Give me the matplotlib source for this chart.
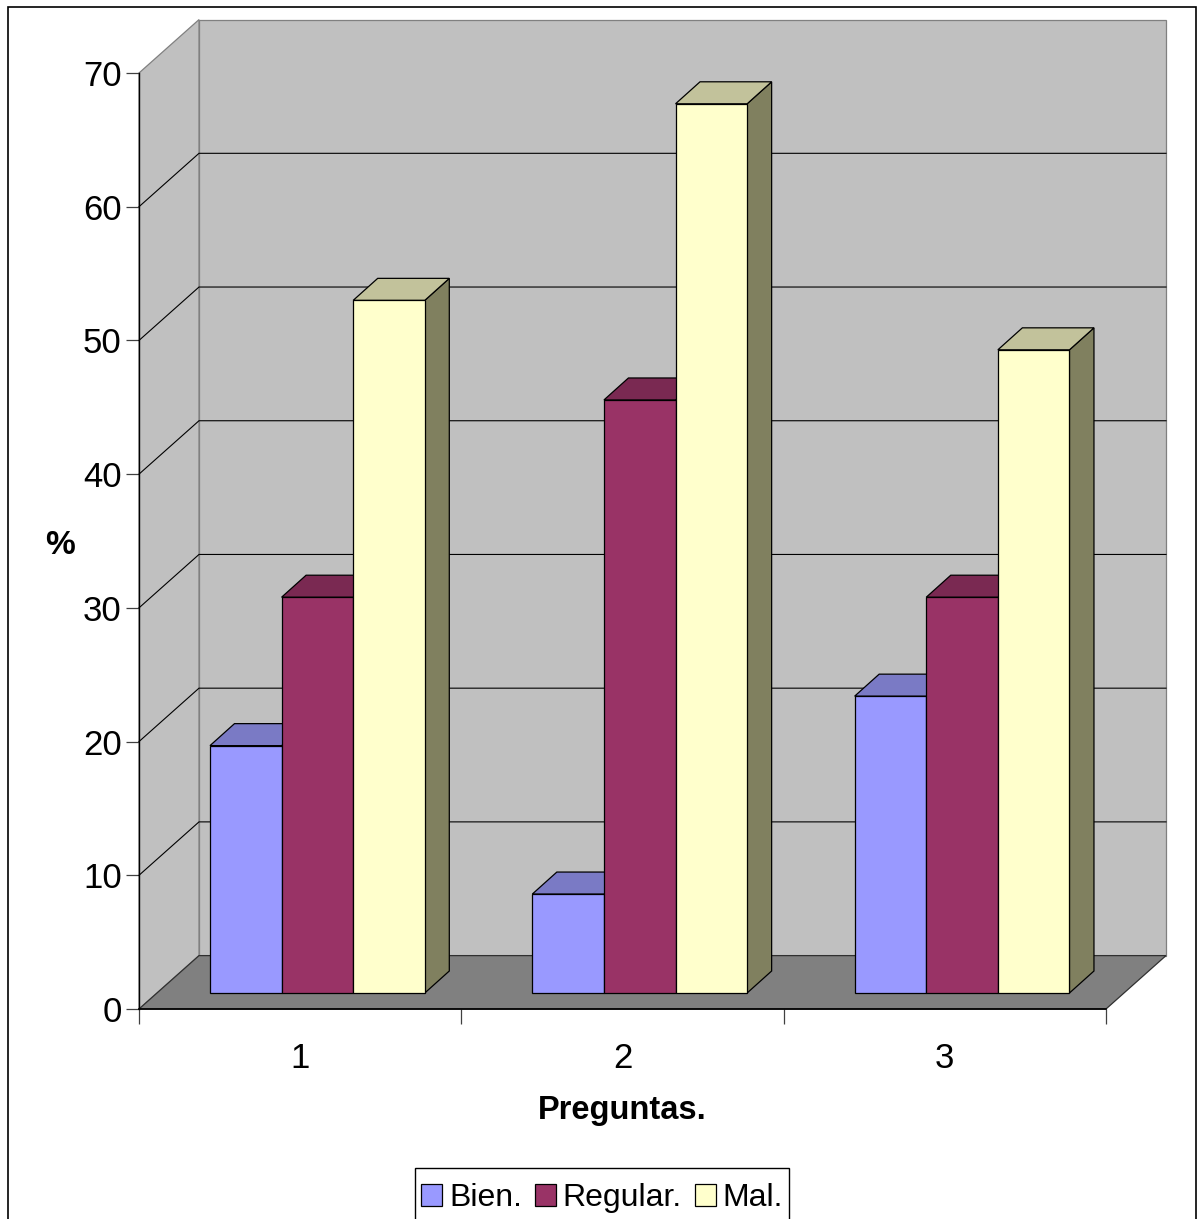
import matplotlib
matplotlib.use("Agg")
import matplotlib.pyplot as plt
from matplotlib.patches import Polygon, Rectangle

categories = ["1", "2", "3"]
series_names = ["Bien.", "Regular.", "Mal."]
bien = [18.5, 7.4, 22.2]
regular = [29.6, 44.35, 29.6]
mal = [51.8, 66.5, 48.1]
y_ticks = [0, 10, 20, 30, 40, 50, 60, 70]

W, H = 1199, 1219
L, R, B, T = 139, 1106, 1009, 73
UX = (R - L) / 3
UY = (B - T) / 70
FONT = "Liberation Sans"

fig = plt.figure(figsize=(W / 100, H / 100), dpi=100, facecolor="white")
frame = Rectangle((8 / W, -0.01), (1196 - 8) / W, (H - 7) / H + 0.01,
                  transform=fig.transFigure, fc="white", ec="black", lw=1.2, zorder=-5)
fig.add_artist(frame)
ax = fig.add_axes([L / W, (H - B) / H, (R - L) / W, (B - T) / H])
ax.set_xlim(0, 3)
ax.set_ylim(0, 70)
ax.patch.set_visible(False)
for sp in ax.spines.values():
    sp.set_visible(False)

dx = 60 / UX
dy = 53.4 / UY
E = "black"
GREY = "#808080"


def poly(pts, fc, z, ec=E, lw=0.9):
    ax.add_patch(Polygon(pts, closed=True, fc=fc, ec=ec, lw=lw, zorder=z, clip_on=False))


# walls and floor
poly([(dx, dy), (3 + dx, dy), (3 + dx, 70 + dy), (dx, 70 + dy)], "#c0c0c0", 1, ec=GREY)
poly([(0, 0), (dx, dy), (dx, 70 + dy), (0, 70)], "#c0c0c0", 1, ec=GREY)
poly([(0, 0), (3, 0), (3 + dx, dy), (dx, dy)], "#808080", 1.5, ec="#303030")

# gridlines
for v in y_ticks[1:-1]:
    ax.plot([0, dx, 3 + dx], [v, v + dy, v + dy], color="black", lw=0.8, zorder=2,
            clip_on=False, solid_joinstyle="miter")
ax.plot([0, 0], [0, 70], color="black", lw=1.0, zorder=2, clip_on=False)
ax.plot([0, 3], [0, 0], color="black", lw=1.2, zorder=2, clip_on=False)

# bars
bar_w = 71.6 / UX
ox, oy = 24.5 / UX, 22 / UY
base_y = 16 / UY
start = 71 / UX
colors = [("#9999ff", "#7a7ac5", "#6e6eb8"),
          ("#993366", "#7a2952", "#6b2447"),
          ("#ffffcc", "#c2c29b", "#80805f")]
series = [bien, regular, mal]
for c in range(3):
    for s in range(3):
        v = series[s][c]
        x0 = c + start + s * bar_w
        x1 = x0 + bar_w
        y0 = base_y
        y1 = base_y + v
        z = 3 + c * 0.1 + s * 0.01
        poly([(x1, y0), (x1 + ox, y0 + oy), (x1 + ox, y1 + oy), (x1, y1)], colors[s][2], z)
        poly([(x0, y1), (x1, y1), (x1 + ox, y1 + oy), (x0 + ox, y1 + oy)], colors[s][1], z)
        poly([(x0, y0), (x1, y0), (x1, y1), (x0, y1)], colors[s][0], z)

# axes ticks and labels
ax.set_yticks(y_ticks)
ax.set_yticklabels([str(v) for v in y_ticks], family=FONT, fontsize=25)
ax.set_xticks([0, 1, 2, 3])
ax.set_xticklabels([])
ax.set_xticks([0.5, 1.5, 2.5], minor=True)
ax.set_xticklabels(categories, minor=True, family=FONT, fontsize=25)
ax.tick_params(axis="x", which="major", length=11, width=0.9, color="#404040")
ax.tick_params(axis="x", which="minor", length=0, pad=24)
ax.tick_params(axis="y", length=9.5, width=0.9, color="#404040", pad=3)
ax.set_ylabel("%", family=FONT, fontsize=24, fontweight="bold", rotation=0)
ax.yaxis.set_label_coords((60 - L) / (R - L), (B - 545) / (B - T), transform=ax.transAxes)
ax.yaxis.label.set_va("center")
ax.yaxis.label.set_ha("center")
fig.text(622 / W, (H - 1110) / H, "Preguntas.", family=FONT, fontsize=23.5, fontweight="bold",
         ha="center", va="center")

# legend: the box runs past the bottom edge of the picture, as in the reference
fig.add_artist(Rectangle((415 / W, -0.01), (789 - 415) / W, (H - 1168) / H + 0.01,
                         transform=fig.transFigure, fc="white", ec="black", lw=1.0, zorder=-4))
handles = [Rectangle((0, 0), 1, 1, fc=colors[i][0], ec="black", lw=0.9) for i in range(3)]
leg = fig.legend(handles, series_names, loc="center", bbox_to_anchor=(602 / W, (H - 1198) / H),
                 ncol=3, frameon=False,
                 prop={"family": FONT, "size": 23}, handlelength=0.66, handleheight=0.7,
                 handletextpad=0.22, columnspacing=0.4, borderpad=0.2, borderaxespad=0)

fig.savefig("out.png", dpi=100, facecolor="white")
